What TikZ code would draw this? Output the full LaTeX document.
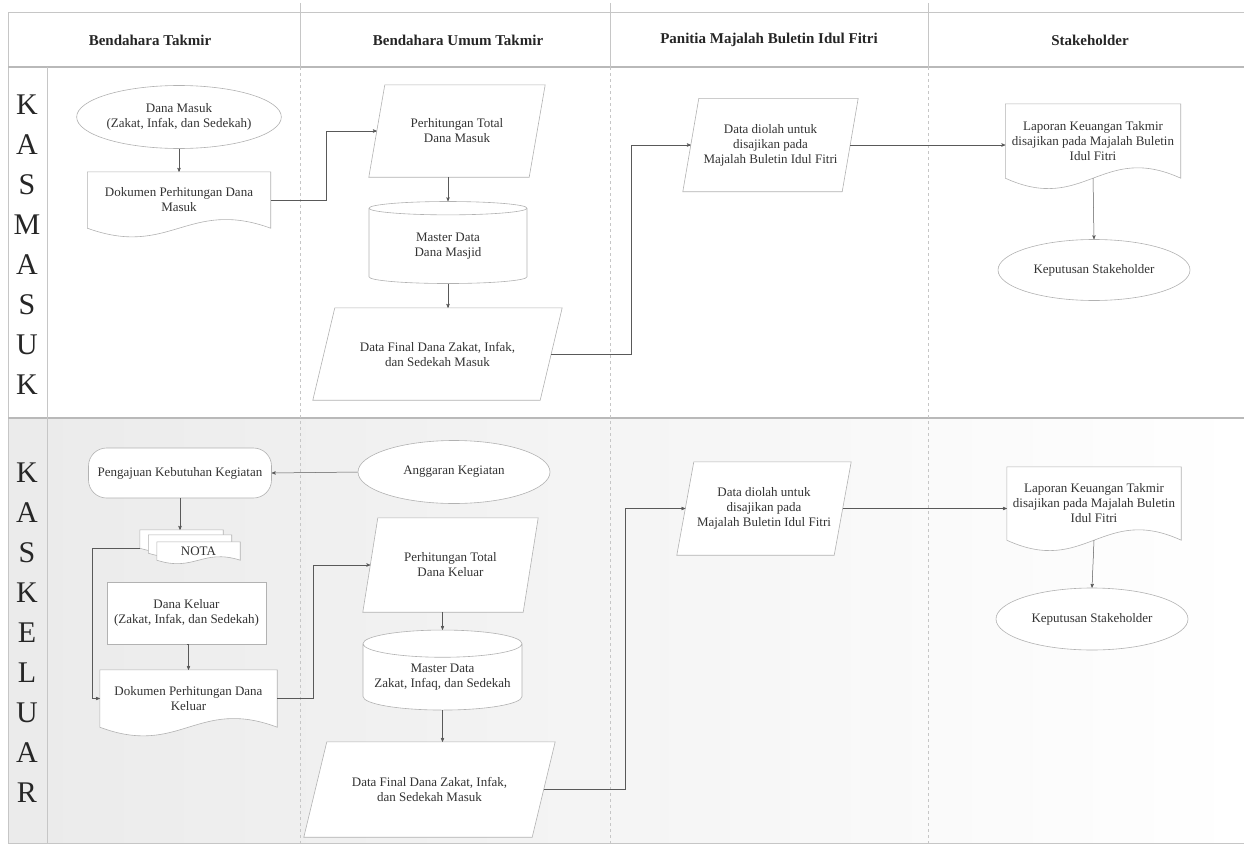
\documentclass[tikz,border=0pt]{standalone}
\usepackage{fontspec}
\setmainfont{Liberation Serif}
\usetikzlibrary{arrows, shapes, calc, backgrounds}
\tikzset{
		gridline/.style={draw=gray!45, line width=0.6pt},
		sepline/.style={draw=gray!55, line width=1.6pt},
		shapeline/.style={draw=gray!60, line width=0.6pt, fill=white},
		flowtext/.style={font=\fontsize{13}{15}\selectfont, text=black!80, align=center},
		terminal/.style={shapeline, flowtext, ellipse, inner sep=0pt},
		datain/.style={flowtext, rectangle, inner sep=0pt},
		process/.style={shapeline, flowtext, rectangle, inner sep=0pt},
		store/.style={shapeline, flowtext, cylinder, shape border rotate=90, aspect=0.2, inner sep=0pt},
		docbox/.style={flowtext, rectangle, inner sep=0pt},
		lanechar/.style={font=\fontsize{30}{30}\selectfont, text=black!85},
		headtext/.style={font=\fontsize{15}{17}\selectfont\bfseries, text=black!85},
		link/.style={->, draw=black!65, line width=0.5pt}
	}
% outline of a document symbol round a docbox node
\newcommand{\docedge}[2][30]{%
	\filldraw[shapeline] (#2.south west) -- (#2.north west) -- (#2.north east) -- (#2.south east)
		.. controls ($(#2.south west)!0.55!(#2.south east)+(0,-#1)$)
		and ($(#2.south west)!0.45!(#2.south east)+(0,#1)$) .. (#2.south west) -- cycle;}
% outline of a data (parallelogram) symbol round a datain node
\newcommand{\slantedge}[2][16]{%
	\filldraw[shapeline] ($(#2.south west)+(-#1/2,0)$) -- ($(#2.north west)+(#1/2,0)$)
		-- ($(#2.north east)+(#1/2,0)$) -- ($(#2.south east)+(-#1/2,0)$) -- cycle;}

\begin{document}
\begin{tikzpicture}[x=1pt, y=-1pt, >=stealth']
	\useasboundingbox (0,0) rectangle (1244,843);

	% swimlanes
	\begin{pgfonlayer}{background}
		\shade[left color=gray!16, right color=white] (8,418) rectangle (1244,843);
		\draw[gridline] (8,12) rectangle (1244,843);
		\draw[sepline] (8,67) -- (1244,67);
		\draw[sepline] (8,418) -- (1244,418);
		\draw[gridline] (47,67) -- (47,843);
		\foreach \x in {300,610,928}{
			\draw[gridline] (\x,3) -- (\x,67);
			\draw[gridline, dashed] (\x,67) -- (\x,843);
		}
	\end{pgfonlayer}

	\node[headtext] (head1) at (150,40)  {Bendahara Takmir};
	\node[headtext] (head2) at (458,40)  {Bendahara Umum Takmir};
	\node[headtext] (head3) at (769,40)  {Panitia Majalah Buletin Idul Fitri};
	\node[headtext] (head4) at (1090,40) {Stakeholder};

	\foreach \ch [count=\i] in {K,A,S,M,A,S,U,K}
		\node[lanechar] (masuk\i) at (27,{65+40*\i}) {\ch};
	\foreach \ch [count=\i] in {K,A,S,K,E,L,U,A,R}
		\node[lanechar] (keluar\i) at (27,{433+40*\i}) {\ch};

	% kas masuk
	\node[terminal, minimum width=182pt, minimum height=63pt] (danaMasuk) at (179,117) {Dana Masuk\\(Zakat, Infak, dan Sedekah)};
	\node[docbox, minimum width=183pt, minimum height=56pt]   (dokMasuk) at (179,200) {Dokumen Perhitungan Dana\\Masuk};
	\node[datain, minimum width=160pt, minimum height=92pt]   (hitungMasuk) at (457,131) {Perhitungan Total\\Dana Masuk};
	\node[store, minimum width=158pt, minimum height=82pt]    (masterMasuk) at (448,246) {Master Data\\Dana Masjid};
	\node[datain, minimum width=227pt, minimum height=92pt]   (finalMasuk) at (437.5,354) {Data Final Dana Zakat, Infak,\\dan Sedekah Masuk};
	\node[datain, minimum width=159pt, minimum height=93pt]   (olahMasuk) at (770.5,145) {Data diolah untuk\\disajikan pada\\Majalah Buletin Idul Fitri};
	\node[docbox, minimum width=175pt, minimum height=74pt]   (lapMasuk) at (1093,141) {Laporan Keuangan Takmir\\disajikan pada Majalah Buletin\\Idul Fitri};
	\node[terminal, minimum width=192pt, minimum height=61pt] (putusMasuk) at (1094,270) {Keputusan Stakeholder};

	% kas keluar
	\node[process, rounded corners=18pt, minimum width=183pt, minimum height=50pt] (ajuKeluar) at (180,473) {Pengajuan Kebutuhan Kegiatan};
	\node[terminal, minimum width=192pt, minimum height=63pt] (anggaran) at (454,472) {Anggaran Kegiatan};
	\node[docbox, minimum width=83pt, minimum height=18pt] (notaA) at (181.5,539) {};
	\node[docbox, minimum width=83pt, minimum height=18pt] (notaB) at (190,544) {};
	\node[docbox, minimum width=83pt, minimum height=18pt] (nota) at (198.5,551) {NOTA};
	\node[process, minimum width=159pt, minimum height=62pt] (danaKeluar) at (186.5,613) {Dana Keluar\\(Zakat, Infak, dan Sedekah)};
	\node[docbox, minimum width=177pt, minimum height=57pt]  (dokKeluar) at (188.5,698.5) {Dokumen Perhitungan Dana\\Keluar};
	\node[datain, minimum width=160pt, minimum height=94pt]  (hitungKeluar) at (450.5,565) {Perhitungan Total\\Dana Keluar};
	\node[store, minimum width=159pt, minimum height=80pt]   (masterKeluar) at (442.5,677) {Master Data\\Zakat, Infaq, dan Sedekah};
	\node[datain, minimum width=228pt, minimum height=95pt]  (finalKeluar) at (429.5,789.5) {Data Final Dana Zakat, Infak,\\dan Sedekah Masuk};
	\node[datain, minimum width=157pt, minimum height=93pt]  (olahKeluar) at (764,508.5) {Data diolah untuk\\disajikan pada\\Majalah Buletin Idul Fitri};
	\node[docbox, minimum width=174pt, minimum height=73pt]  (lapKeluar) at (1094,503.5) {Laporan Keuangan Takmir\\disajikan pada Majalah Buletin\\Idul Fitri};
	\node[terminal, minimum width=192pt, minimum height=62pt] (putusKeluar) at (1092,619) {Keputusan Stakeholder};

	\begin{pgfonlayer}{background}
		\docedge{dokMasuk}
		\slantedge{hitungMasuk}
		\slantedge[22]{finalMasuk}
		\slantedge{olahMasuk}
		\docedge[36]{lapMasuk}
		\docedge[12]{notaA}
		\docedge[12]{notaB}
		\docedge[12]{nota}
		\docedge{dokKeluar}
		\slantedge[15]{hitungKeluar}
		\slantedge[23]{finalKeluar}
		\slantedge[17]{olahKeluar}
		\docedge[36]{lapKeluar}
	\end{pgfonlayer}

	\draw[link] (danaMasuk) -- (dokMasuk);
	\draw[link] (dokMasuk.east) -- ++(56,0) |- (hitungMasuk.west);
	\draw[link] (masterMasuk.north |- hitungMasuk.south) -- (masterMasuk.north);
	\draw[link] (masterMasuk.south) -- (masterMasuk.south |- finalMasuk.north);
	\draw[link] (finalMasuk.east) -- (631,354) |- (olahMasuk.west);
	\draw[link] (olahMasuk.east) -- (olahMasuk.east -| lapMasuk.west);
	\draw[link] (lapMasuk.south) -- (putusMasuk.north);

	\draw[link] (anggaran.west) -- (ajuKeluar.east);
	\draw[link] (ajuKeluar.south) -- (ajuKeluar.south |- notaA.north);
	\draw[link] (notaA.south west) -- ++(-48,0) |- (dokKeluar.west);
	\draw[link] (danaKeluar.south) -- (danaKeluar.south -| dokKeluar.north) -- (dokKeluar.north);
	\draw[link] (dokKeluar.east) -- ++(36,0) |- (hitungKeluar.west);
	\draw[link] (masterKeluar.north |- hitungKeluar.south) -- (masterKeluar.north);
	\draw[link] (masterKeluar.south) -- (masterKeluar.south |- finalKeluar.north);
	\draw[link] (finalKeluar.east) -- (625,789.5) |- (olahKeluar.west);
	\draw[link] (olahKeluar.east) -- (olahKeluar.east -| lapKeluar.west);
	\draw[link] (lapKeluar.south) -- (putusKeluar.north);
\end{tikzpicture}
\end{document}
